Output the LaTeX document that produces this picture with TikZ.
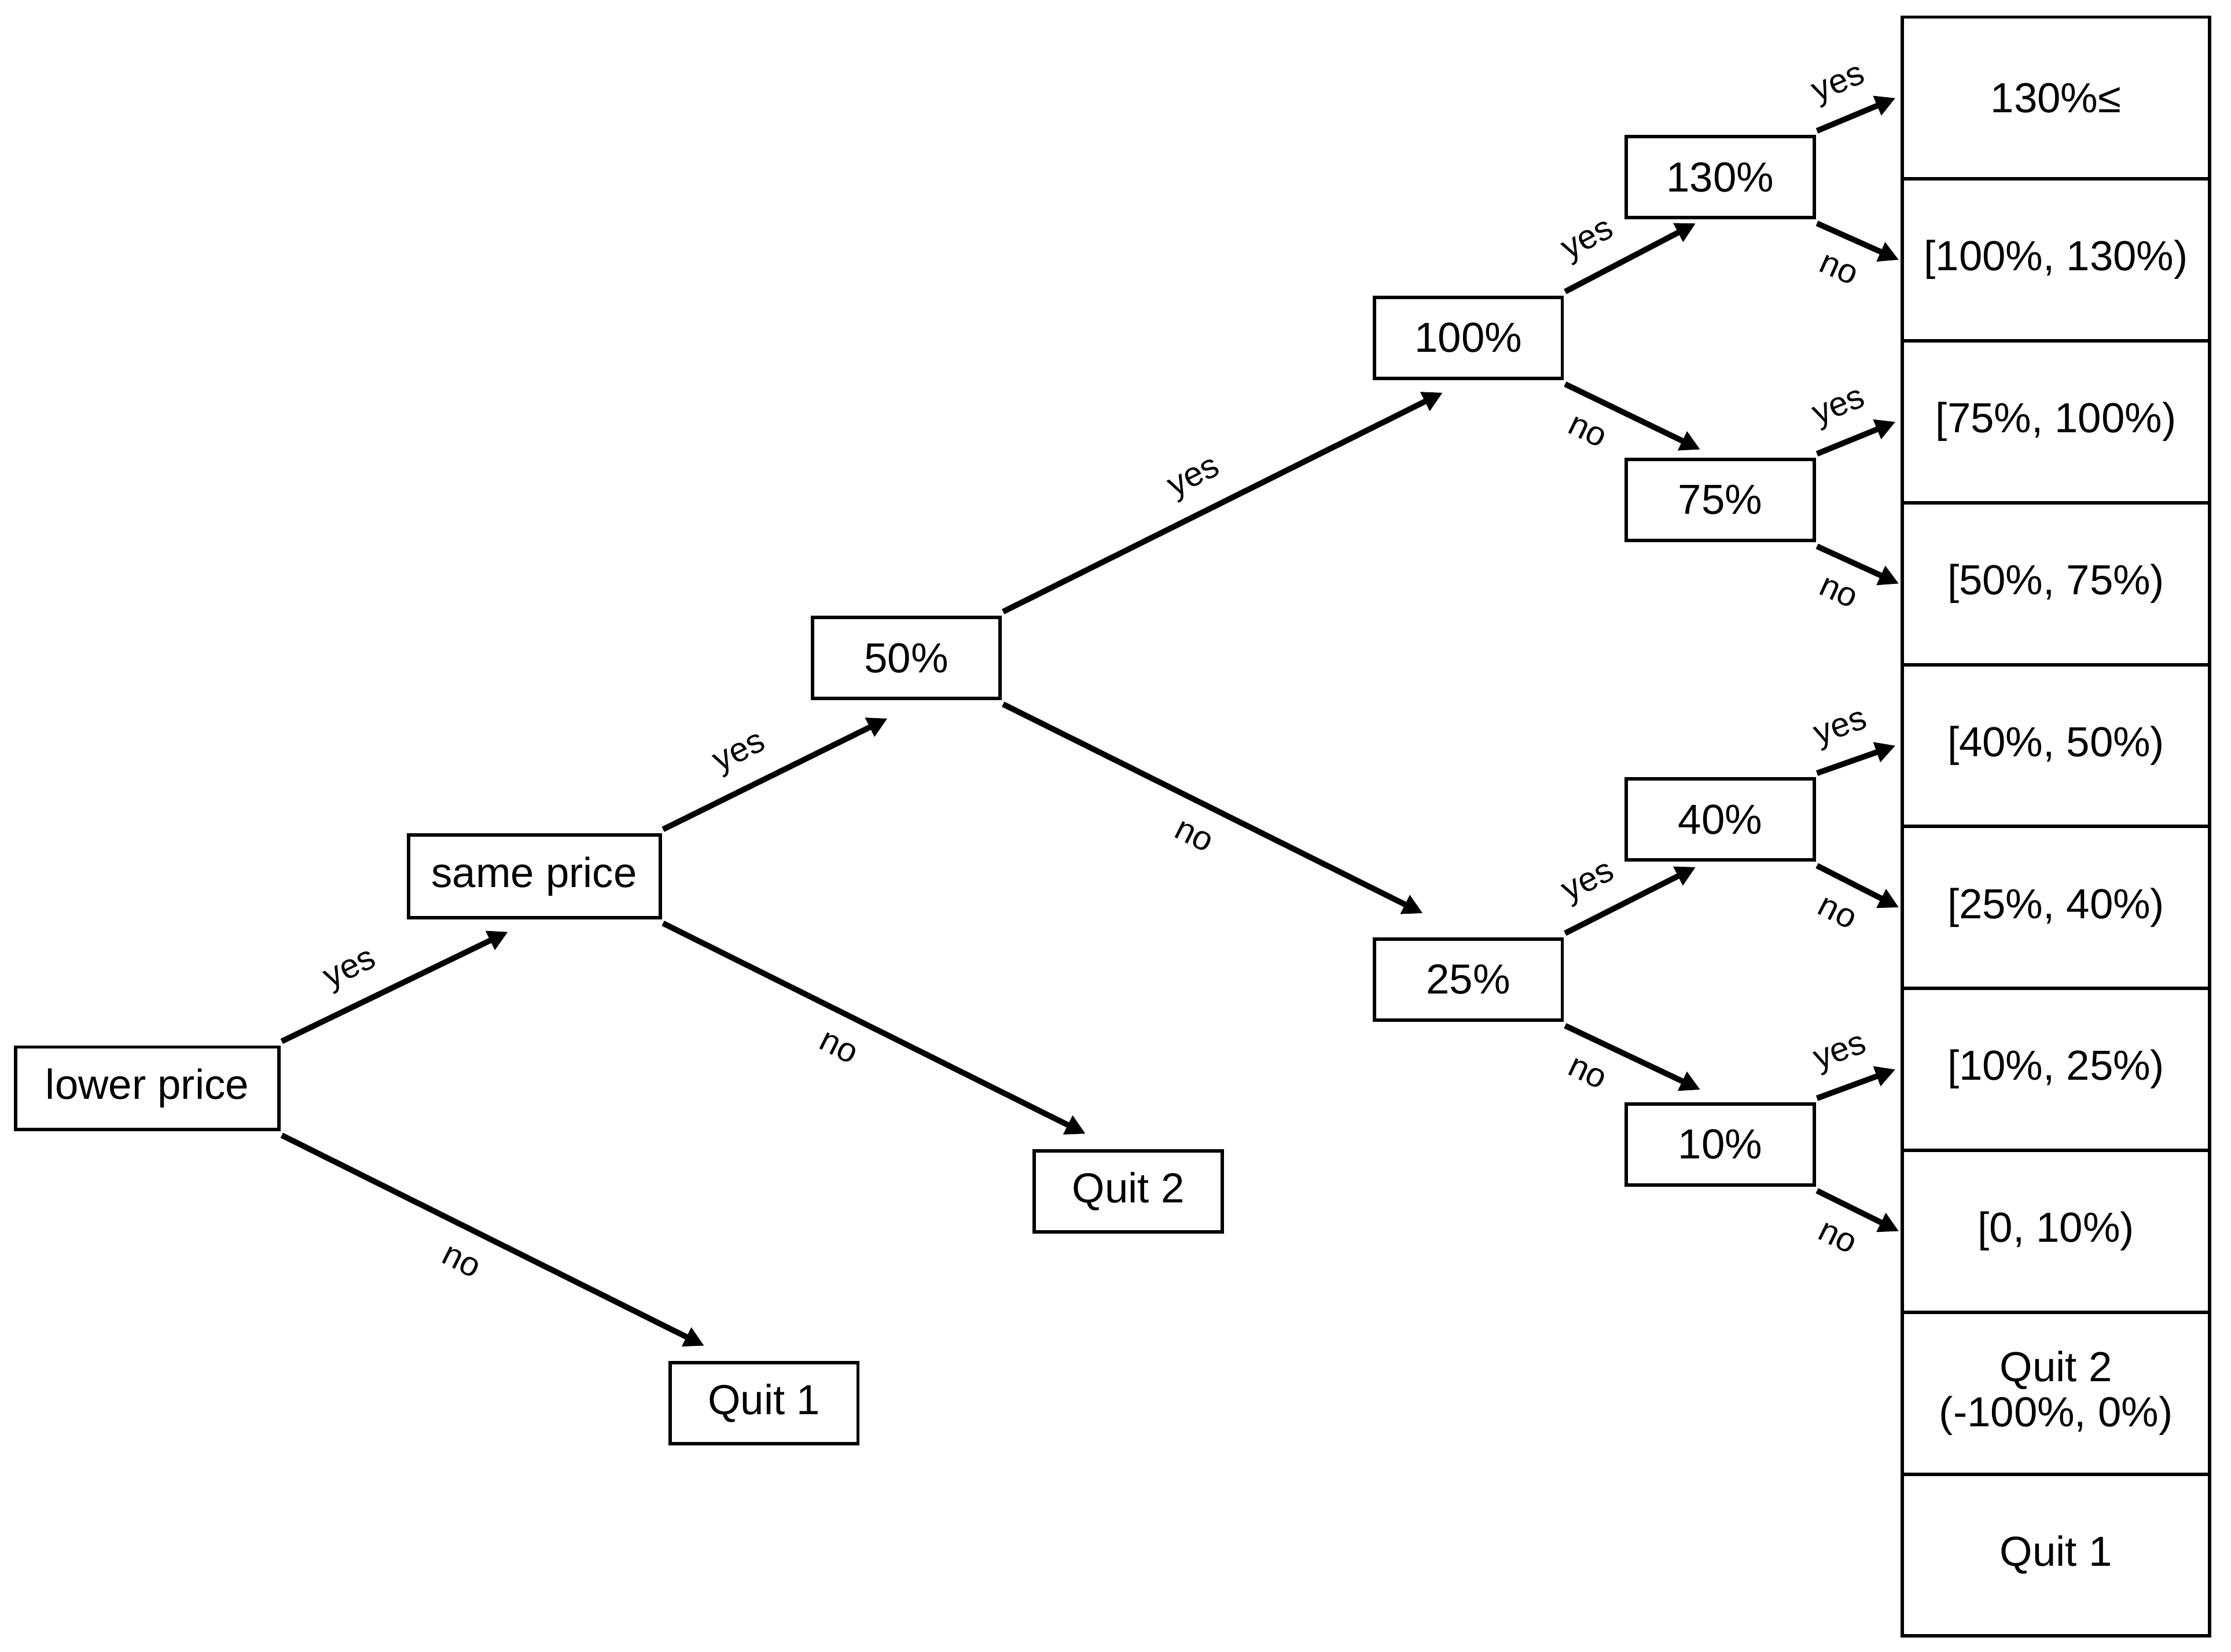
\documentclass[tikz,border=0pt]{standalone}
\usepackage{fontspec}
\setmainfont{Liberation Sans}
\usetikzlibrary{arrows.meta}

\begin{document}
\begin{tikzpicture}[>={Triangle[length=0.35cm, width=0.35cm]},
    box/.style={draw, line width=0.06cm, minimum width=3.3cm, minimum height=1.425cm,
        outer xsep=0.05cm, outer ysep=0.1cm, font=\fontsize{21}{23}\selectfont},
    cell/.style={draw, line width=0.06cm, minimum width=5.4cm, minimum height=2.845cm,
        outer sep=0pt, align=center, font=\fontsize{21}{22.7}\selectfont},
    arr/.style={->, line width=0.1cm},
    lblyes/.style={sloped, above=0.17cm, font=\fontsize{17}{19}\selectfont},
    lblno/.style={sloped, below=0.26cm, font=\fontsize{17}{19}\selectfont}]

\useasboundingbox (0, 0) rectangle (39.2, 29.025);

% === Decisiones ===
\node[box, minimum width=4.625cm, minimum height=1.45cm] (lp) at (2.5875, 9.9) {lower price};
\node[box, minimum width=4.425cm, minimum height=1.45cm] (sp) at (9.3875, 13.625) {same price};
\node[box] (q1) at (13.425, 4.3625) {Quit 1};
\node[box] (q2) at (19.825, 8.0875) {Quit 2};
\node[box] (p50) at (15.925, 17.4625) {50\%};
\node[box] (p100) at (25.8, 23.0875) {100\%};
\node[box] (p25) at (25.8, 11.8125) {25\%};
\node[box] (p130) at (30.225, 25.9125) {130\%};
\node[box] (p75) at (30.225, 20.2375) {75\%};
\node[box] (p40) at (30.225, 14.625) {40\%};
\node[box] (p10) at (30.225, 8.9125) {10\%};

% === Columna de resultados ===
\foreach \txt [count=\i] in {130\%≤, {[100\%, 130\%)}, {[75\%, 100\%)}, {[50\%, 75\%)},
    {[40\%, 50\%)}, {[25\%, 40\%)}, {[10\%, 25\%)}, {[0, 10\%)},
    {Quit 2\\(-100\%, 0\%)}, Quit 1}
    \node[cell] (r\i) at (36.125, {30.1475 - 2.845*\i}) {\txt};

% === Ramas ===
\draw[arr] (lp.north east) -- ([shift={(-0.46,-0.15)}]sp.south) node[lblyes, pos=0.37] {yes};
\draw[arr] (lp.south east) -- ([shift={(-1.05,0.2)}]q1.north) node[lblno, pos=0.46] {no};
\draw[arr] (sp.north east) -- ([shift={(-0.33,-0.25)}]p50.south) node[lblyes, pos=0.41] {yes};
\draw[arr] (sp.south east) -- ([shift={(-0.75,0.2)}]q2.north) node[lblno, pos=0.45] {no};
\draw[arr] (p50.north east) -- ([shift={(-0.45,-0.15)}]p100.south) node[lblyes, pos=0.47] {yes};
\draw[arr] (p50.south east) -- ([shift={(-0.8,0.35)}]p25.north) node[lblno, pos=0.49] {no};
\draw[arr] (p100.north east) -- ([shift={(-0.43,0)}]p130.south) node[lblyes, pos=0.3] {yes};
\draw[arr] (p100.south east) -- ([shift={(-0.35,0.075)}]p75.north) node[lblno, pos=0.27] {no};
\draw[arr] (p25.north east) -- ([shift={(-0.43,-0.025)}]p40.south) node[lblyes, pos=0.3] {yes};
\draw[arr] (p25.south east) -- ([shift={(-0.35,0.15)}]p10.north) node[lblno, pos=0.27] {no};

% Hojas
\foreach \n/\a/\b in {p130/1/2, p75/3/4, p40/5/6, p10/7/8} {
    \draw[arr] (\n.north east) -- ([xshift=-0.12cm]r\a.west) node[lblyes, pos=0.45] {yes};
    \draw[arr] (\n.south east) -- ([xshift=-0.06cm]r\b.west) node[lblno, pos=0.43] {no};
}

\end{tikzpicture}
\end{document}
